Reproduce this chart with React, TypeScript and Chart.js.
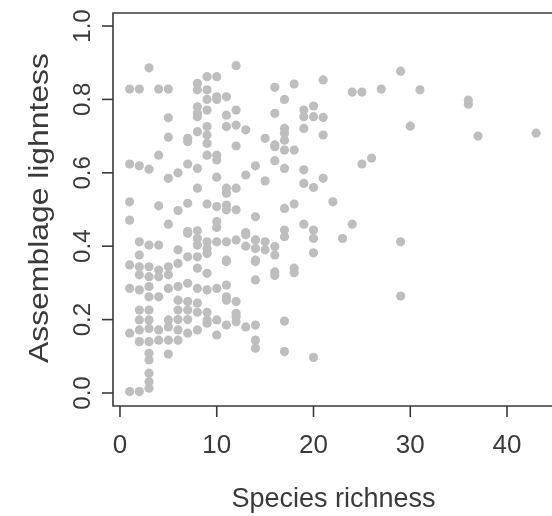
import React, { useEffect, useRef } from "react";
import Chart from "chart.js/auto";

// Species richness (x) and assemblage lightness (y), one entry per point
const richness: number[] = [
  1, 1, 1, 1, 1, 1, 1, 1,
  2, 2, 2, 2, 2, 2, 2, 2, 2, 2, 2, 2,
  3, 3, 3, 3, 3, 3, 3, 3, 3, 3, 3, 3, 3, 3, 3, 3,
  4, 4, 4, 4, 4, 4, 4, 4, 4,
  5, 5, 5, 5, 5, 5, 5, 5, 5, 5, 5, 5,
  6, 6, 6, 6, 6, 6, 6, 6, 6, 6,
  7, 7, 7, 7, 7, 7, 7, 7, 7, 7, 7, 7,
  8, 8, 8, 8, 8, 8, 8, 8, 8, 8, 8, 8, 8, 8, 8, 8, 8,
  9, 9, 9, 9, 9, 9, 9, 9, 9, 9, 9, 9, 9, 9, 9, 9, 9,
  10, 10, 10, 10, 10, 10, 10, 10, 10, 10, 10, 10, 10,
  11, 11, 11, 11, 11, 11, 11, 11, 11, 11, 11, 11, 11, 11,
  12, 12, 12, 12, 12, 12, 12, 12, 12, 12, 12,
  13, 13, 13, 13, 13, 13,
  14, 14, 14, 14, 14, 14, 14, 14, 14, 14,
  15, 15, 15, 15,
  16, 16, 16, 16, 16, 16, 16, 16, 16,
  17, 17, 17, 17, 17, 17, 17, 17, 17, 17, 17,
  18, 18, 18, 18, 18,
  19, 19, 19, 19, 19, 19,
  20, 20, 20, 20, 20, 20, 20,
  21, 21, 21, 21,
  22, 23, 24, 24, 25, 25, 26, 27,
  29, 29, 29, 30, 31, 36, 36, 37, 43,
];

const lightness: number[] = [
  0.828, 0.624, 0.521, 0.471, 0.349, 0.285, 0.163, 0.004,
  0.828, 0.619, 0.412, 0.376, 0.344, 0.322, 0.281, 0.226, 0.199, 0.172, 0.14, 0.004,
  0.886, 0.61, 0.403, 0.344, 0.317, 0.29, 0.262, 0.226, 0.199, 0.176, 0.14, 0.108, 0.09, 0.054, 0.031, 0.013,
  0.828, 0.648, 0.51, 0.403, 0.335, 0.317, 0.262, 0.172, 0.144,
  0.828, 0.75, 0.697, 0.585, 0.46, 0.344, 0.322, 0.285, 0.199, 0.18, 0.144, 0.106,
  0.6, 0.497, 0.39, 0.353, 0.29, 0.253, 0.226, 0.2, 0.172, 0.144,
  0.694, 0.685, 0.624, 0.517, 0.44, 0.435, 0.371, 0.299, 0.249, 0.226, 0.2, 0.163,
  0.844, 0.826, 0.78, 0.762, 0.753, 0.712, 0.612, 0.558, 0.442, 0.421, 0.403, 0.371, 0.34, 0.285, 0.245, 0.22, 0.172,
  0.862, 0.826, 0.8, 0.771, 0.726, 0.703, 0.68, 0.648, 0.515, 0.412, 0.394, 0.38, 0.326, 0.281, 0.22, 0.199, 0.19,
  0.862, 0.807, 0.8, 0.648, 0.635, 0.588, 0.508, 0.467, 0.451, 0.412, 0.285, 0.199, 0.158,
  0.807, 0.757, 0.726, 0.558, 0.544, 0.512, 0.499, 0.412, 0.362, 0.358, 0.294, 0.262, 0.253, 0.185,
  0.892, 0.771, 0.73, 0.673, 0.558, 0.499, 0.417, 0.249, 0.217, 0.208, 0.194,
  0.717, 0.594, 0.437, 0.431, 0.4, 0.18,
  0.619, 0.48, 0.417, 0.394, 0.362, 0.358, 0.308, 0.185, 0.144, 0.122,
  0.694, 0.578, 0.412, 0.39,
  0.833, 0.762, 0.676, 0.671, 0.633, 0.399, 0.376, 0.33, 0.32,
  0.8, 0.721, 0.708, 0.689, 0.662, 0.612, 0.503, 0.444, 0.426, 0.196, 0.113,
  0.842, 0.662, 0.515, 0.34, 0.328,
  0.771, 0.753, 0.721, 0.608, 0.571, 0.46,
  0.782, 0.753, 0.56, 0.444, 0.421, 0.382, 0.097,
  0.853, 0.751, 0.703, 0.585,
  0.521, 0.421, 0.82, 0.46, 0.82, 0.624, 0.64, 0.828,
  0.877, 0.412, 0.264, 0.727, 0.826, 0.798, 0.787, 0.7, 0.708,
];

const xTicks: number[] = [0, 10, 20, 30, 40];
const xTickLabels: string[] = ["0", "10", "20", "30", "40"];
const yTicks: number[] = [0, 0.2, 0.4, 0.6, 0.8, 1.0];
const yTickLabels: string[] = ["0.0", "0.2", "0.4", "0.6", "0.8", "1.0"];
const xTitle = "Species richness";
const yTitle = "Assemblage lighntess";

const FONT = '"Liberation Sans", Arial, sans-serif';
const INK = "#3a3a3a";

const rAxesPlugin = {
  id: "rAxes",
  afterDraw(chart: any) {
    const { ctx, chartArea, scales } = chart;
    const xs = scales.x;
    const ys = scales.y;
    const { left, top, bottom } = chartArea;
    ctx.save();
    ctx.strokeStyle = INK;
    ctx.lineWidth = 1.6;
    // box (right side falls off the canvas)
    ctx.beginPath();
    ctx.moveTo(chart.width + 5, top);
    ctx.lineTo(left, top);
    ctx.lineTo(left, bottom);
    ctx.lineTo(chart.width + 5, bottom);
    ctx.stroke();
    // x ticks
    ctx.fillStyle = INK;
    ctx.font = `26px ${FONT}`;
    ctx.textAlign = "center";
    ctx.textBaseline = "middle";
    xTicks.forEach((v, i) => {
      const px = xs.getPixelForValue(v);
      ctx.beginPath();
      ctx.moveTo(px, bottom);
      ctx.lineTo(px, bottom + 11);
      ctx.stroke();
      ctx.fillText(xTickLabels[i], px, bottom + 40);
    });
    // y ticks
    yTicks.forEach((v, i) => {
      const py = ys.getPixelForValue(v);
      ctx.beginPath();
      ctx.moveTo(left, py);
      ctx.lineTo(left - 11, py);
      ctx.stroke();
      ctx.save();
      ctx.translate(left - 18, py);
      ctx.rotate(-Math.PI / 2);
      ctx.font = `24px ${FONT}`;
      ctx.textAlign = "center";
      ctx.textBaseline = "bottom";
      ctx.fillText(yTickLabels[i], 0, 0);
      ctx.restore();
    });
    // titles
    ctx.font = `27px ${FONT}`;
    ctx.textAlign = "center";
    ctx.textBaseline = "alphabetic";
    ctx.fillText(xTitle, (xs.getPixelForValue(0) + xs.getPixelForValue(40)) / 2 + 20, 507);
    ctx.save();
    ctx.translate(48, 208);
    ctx.rotate(-Math.PI / 2);
    ctx.scale(1.18, 1);
    ctx.fillText(yTitle, 0, 0);
    ctx.restore();
    ctx.restore();
  },
};

export default function App() {
  const canvasRef = useRef<HTMLCanvasElement | null>(null);

  useEffect(() => {
    const canvas = canvasRef.current;
    if (!canvas) return;
    const points = richness.map((x, i) => ({ x, y: lightness[i] }));
    const chart = new Chart(canvas, {
      type: "scatter",
      data: {
        datasets: [
          {
            data: points,
            pointRadius: 4.6,
            pointHoverRadius: 4.6,
            pointBorderWidth: 0,
            backgroundColor: "rgb(190,190,190)",
            borderColor: "rgb(190,190,190)",
          },
        ],
      },
      options: {
        responsive: false,
        animation: false,
        events: [],
        layout: { padding: { left: 113, top: 13, right: 0, bottom: 110 } },
        plugins: { legend: { display: false }, tooltip: { enabled: false } },
        scales: {
          x: { type: "linear", min: -0.72, max: 44.17, display: false },
          y: { type: "linear", min: -0.0354, max: 1.0354, display: false },
        },
      },
      plugins: [rAxesPlugin],
    });
    return () => chart.destroy();
  }, []);

  return (
    <div style={{ position: "absolute", left: 0, top: 0, width: 552, height: 516, background: "#fff" }}>
      <canvas ref={canvasRef} width={552} height={516} style={{ display: "block" }} />
    </div>
  );
}
